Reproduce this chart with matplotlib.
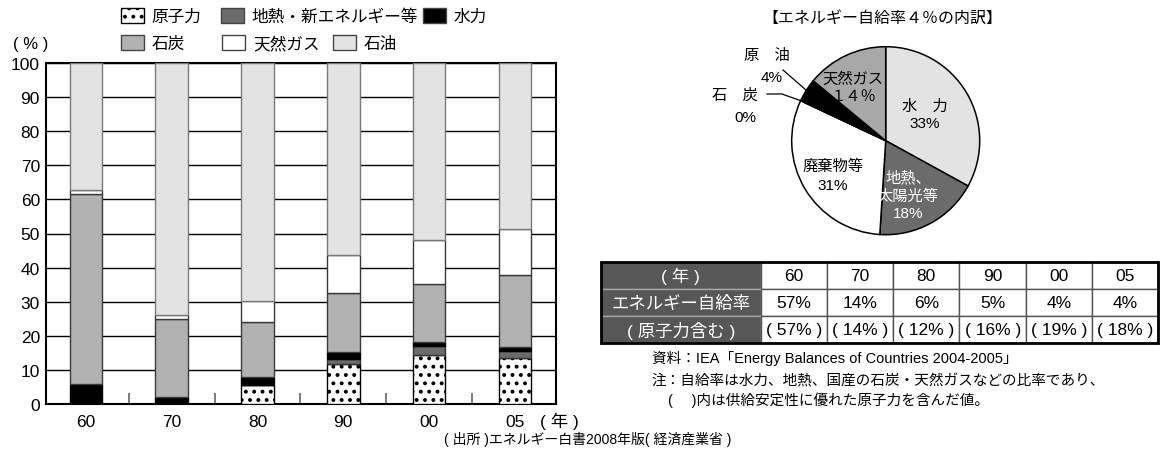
import matplotlib.pyplot as plt
from matplotlib.patches import Patch, Rectangle
import numpy as np

plt.rcParams['font.family'] = ['Liberation Sans', 'Noto Sans CJK JP']
plt.rcParams['hatch.linewidth'] = 1.6

W, H = 1162, 456

# 一次エネルギー供給の構成比 (%)
years = ["60", "70", "80", "90", "00", "05"]
nuclear = [0.0, 0.0, 5.5, 11.7, 14.5, 13.4]
geo_new = [0.0, 0.0, 0.0, 1.5, 2.4, 2.0]
hydro = [5.9, 2.1, 2.5, 2.0, 1.2, 1.2]
coal = [55.7, 22.7, 16.1, 17.4, 17.1, 21.2]
gas = [1.3, 1.2, 6.0, 11.0, 12.8, 13.5]
oil = [37.2, 74.0, 69.9, 56.4, 52.0, 48.7]

# 自給率4%の内訳
pie_labels = ["水力", "地熱、太陽光等", "廃棄物等", "石炭", "原油", "天然ガス"]
pie_values = [33, 18, 31, 0, 4, 14]

# 自給率の表
self_suff = ["57%", "14%", "6%", "5%", "4%", "4%"]
with_nuclear = ["57%", "14%", "12%", "16%", "19%", "18%"]


def fx(p):
    return p / W


def fy(p):
    return 1 - p / H


fig = plt.figure(figsize=(W / 100, H / 100), dpi=100)

# ---- 棒グラフ ----
ax = fig.add_axes([fx(45.5), fy(405), fx(556 - 45.5), (405 - 64) / H])
x = np.arange(len(years))
series = [
    (nuclear, "原子力", "white", "black", ".."),
    (geo_new, "地熱・新エネルギー等", "#6b6b6b", "#333333", None),
    (hydro, "水力", "black", "black", None),
    (coal, "石炭", "#b2b2b2", "#3a3a3a", None),
    (gas, "天然ガス", "white", "#3a3a3a", None),
    (oil, "石油", "#e3e3e3", "#7a7a7a", None),
]
bottom = np.zeros(len(years))
for vals, lab, fc, ec, hatch in series:
    ax.bar(x, vals, 0.38, bottom=bottom, color=fc, edgecolor=ec,
           hatch=hatch, linewidth=1, zorder=3)
    bottom += np.array(vals)

ax.set_xlim(-0.47, 5.48)
ax.set_ylim(0, 100)
ax.set_yticks(range(0, 101, 10))
ax.yaxis.grid(True, color="black", linewidth=1, zorder=1)
ax.set_axisbelow(True)
ax.set_xticks(x)
ax.set_xticklabels(years, fontsize=12.5)
ax.set_xticks(x[:-1] + 0.5, minor=True)
ax.tick_params(axis="x", which="major", length=0, pad=7)
ax.tick_params(axis="x", which="minor", direction="in", length=8,
               width=1.2, color="#666666")
ax.tick_params(axis="y", length=0, labelsize=12.5, pad=4)
for s in ax.spines.values():
    s.set_linewidth(1.5)
    s.set_color("black")

fig.text(fx(31), fy(44), "( % )", fontsize=12, ha="center", va="center")
fig.text(fx(559), fy(421), "( 年 )", fontsize=12.5, ha="center", va="center")
fig.text(fx(588), fy(440), "( 出所 )エネルギー白書2008年版( 経済産業省 )",
         fontsize=10, ha="center", va="center")

# 凡例 (2段)
legend_pos = {
    "原子力": (120.5, 17), "地熱・新エネルギー等": (221, 17), "水力": (423, 17),
    "石炭": (121, 44), "天然ガス": (222, 44), "石油": (333, 44),
}
for vals, lab, fc, ec, hatch in series:
    px, py = legend_pos[lab]
    h = Patch(facecolor=fc, edgecolor="black" if hatch else "#444444",
              hatch=hatch, linewidth=1)
    fig.legend(handles=[h], labels=[lab], loc="center left",
               bbox_to_anchor=(fx(px), fy(py)), frameon=False, fontsize=12,
               handlelength=1.4, handleheight=1.0, handletextpad=0.45,
               borderpad=0, borderaxespad=0)

# ---- 円グラフ ----
cx, cy = 885.7, 141.7
pax = fig.add_axes([fx(cx - 100), fy(cy + 100), 200 / W, 200 / H])
pie_colors = ["#e3e3e3", "#6b6b6b", "white", "#b2b2b2", "black", "#a8a8a8"]
wedges, _ = pax.pie(pie_values, colors=pie_colors, startangle=90,
                    counterclock=False, radius=0.94,
                    wedgeprops=dict(edgecolor="black", linewidth=1.1))
pax.set_xlim(-1, 1)
pax.set_ylim(-1, 1)
pax.set_aspect("equal")
pax.axis("off")


def pp(xp, yp):
    return (xp - cx) / 100, (cy - yp) / 100


fig.text(fx(882.5), fy(18), "【エネルギー自給率４％の内訳】", fontsize=11.5,
         ha="center", va="center")

pax.text(*pp(925, 115), "水　力\n33%", ha="center", va="center",
         fontsize=11, linespacing=1.3)
pax.text(*pp(853, 88), "天然ガス\n１４％", ha="center", va="center",
         fontsize=11, linespacing=1.25)
pax.text(*pp(833, 176), "廃棄物等\n31%", ha="center", va="center",
         fontsize=11, linespacing=1.5)
pax.text(*pp(908, 196), "地熱、\n太陽光等\n18%", ha="center", va="center",
         fontsize=11, linespacing=1.35, color="white")

pax.text(*pp(767, 56), "原　油", ha="center", va="center", fontsize=11)
pax.text(*pp(772, 78), "4%", ha="center", va="center", fontsize=11)
pax.text(*pp(735, 96), "石　炭", ha="center", va="center", fontsize=11)
pax.text(*pp(745, 118), "0%", ha="center", va="center", fontsize=11)


def edge_point(w):
    a = np.deg2rad((w.theta1 + w.theta2) / 2)
    return 0.94 * np.cos(a), 0.94 * np.sin(a)


ox, oy = edge_point(wedges[4])
sx, sy = pp(783, 71)
pax.plot([sx, ox], [sy, oy], color="black", lw=0.9, clip_on=False)
cx2, cy2 = edge_point(wedges[3])
ax1, ay1 = pp(767, 95)
ax2, ay2 = pp(782, 95)
pax.plot([ax1, ax2, cx2], [ay1, ay2, cy2], color="black", lw=0.9,
         clip_on=False)

# ---- 自給率の表 ----
tax = fig.add_axes([fx(601), fy(344.3), (1158.3 - 601) / W, (344.3 - 263.3) / H])
tax.axis("off")
cells = [["( 年 )"] + years,
         ["エネルギー自給率"] + self_suff,
         ["( 原子力含む )"] + ["( %s )" % v for v in with_nuclear]]
cw = np.array([159.7] + [66.27] * 6)
tbl = tax.table(cellText=cells, cellLoc="center", bbox=[0, 0, 1, 1],
                colWidths=list(cw / cw.sum()))
tbl.auto_set_font_size(False)
tbl.set_fontsize(12.5)
for (r, c), cell in tbl.get_celld().items():
    cell.set_linewidth(1)
    if c == 0:
        cell.set_facecolor("#575757")
        cell.set_edgecolor("#a8a8a8")
        cell.get_text().set_color("white")
    else:
        cell.set_facecolor("white")
        cell.set_edgecolor("#555555")
tax.add_patch(Rectangle((0, 0), 1, 1, transform=tax.transAxes, fill=False,
                        edgecolor="black", linewidth=2, zorder=5,
                        clip_on=False))

fig.text(fx(651.7), fy(358), "資料：IEA「Energy Balances of Countries 2004-2005」",
         fontsize=10.5, va="center")
fig.text(fx(651.7), fy(381), "注：自給率は水力、地熱、国産の石炭・天然ガスなどの比率であり、",
         fontsize=10.5, va="center")
fig.text(fx(668), fy(400), "(　 )内は供給安定性に優れた原子力を含んだ値。",
         fontsize=10.5, va="center")

fig.savefig("out.png", dpi=100)
